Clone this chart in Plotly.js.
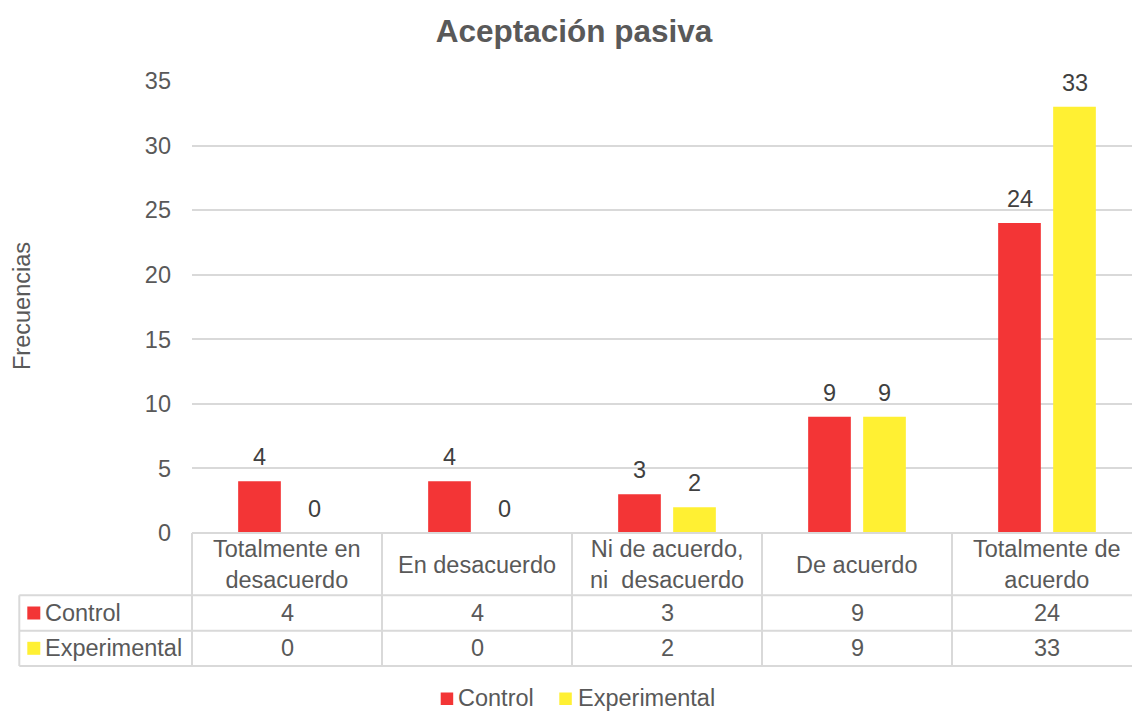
<!DOCTYPE html>
<html>
<head>
<meta charset="utf-8">
<script src="https://cdn.plot.ly/plotly-3.0.1.min.js"></script>
<style>
html,body{margin:0;padding:0;overflow:hidden;background:#fff;}
#chart{width:1142px;height:711px;}
</style>
</head>
<body>
<div id="chart"></div>
<script>
// ---- data ----
const categories = ["Totalmente en desacuerdo","En desacuerdo","Ni de acuerdo, ni  desacuerdo","De acuerdo","Totalmente de acuerdo"];
const headerLabels = ["Totalmente en<br>desacuerdo","En desacuerdo","Ni de acuerdo,<br>ni\u00a0 desacuerdo","De acuerdo","Totalmente de<br>acuerdo"];
const seriesNames = ["Control","Experimental"];
const control = [4,4,3,9,24];
const experimental = [0,0,2,9,33];
const yTicks = [0,5,10,15,20,25,30,35];
const titleText = "Aceptación pasiva";
const yTitle = "Frecuencias";

// ---- styling ----
const FONT = "Liberation Sans, Arial, sans-serif";
const RED = "#F33536";
const YEL = "#FFF033";
const GRID = "#D9D9D9";
const TXT = "#595959";
const LBL = "#404040";
const FS = 23.5;

const W = 1142, H = 711, L = 192, T = 81, B = 178;
const PW = W - L, PH = H - T - B;
const X = px => (px - L) / PW;
const Y = py => (H - B - py) / PH;

const colors = [RED, YEL];
const values = [control, experimental];

const traces = values.map((v, k) => ({
  type: "bar",
  name: seriesNames[k],
  x: categories,
  y: v,
  marker: {color: colors[k]},
  hoverinfo: "x+y+name",
  showlegend: false
}));

const annotations = [];
const shapes = [];

// data labels
values.forEach((v, k) => {
  v.forEach((val, i) => {
    annotations.push({
      x: categories[i], y: val, xref: "x", yref: "y",
      xshift: k === 0 ? -27.5 : 27.5, yshift: 9,
      yanchor: "bottom", showarrow: false,
      text: String(val), font: {family: FONT, size: FS, color: LBL}
    });
  });
});

// table header labels
categories.forEach((c, i) => {
  annotations.push({
    x: c, y: Y(564.5), xref: "x", yref: "paper", yanchor: "middle",
    showarrow: false, text: headerLabels[i],
    font: {family: FONT, size: FS, color: TXT}
  });
});

// table values
const rowCenters = [613, 648.3];
values.forEach((v, k) => {
  v.forEach((val, i) => {
    annotations.push({
      x: categories[i], y: Y(rowCenters[k]), xref: "x", yref: "paper", yanchor: "middle",
      showarrow: false, text: String(val),
      font: {family: FONT, size: FS, color: TXT}
    });
  });
  // row label
  annotations.push({
    x: X(43), y: Y(rowCenters[k]), xref: "paper", yref: "paper",
    xanchor: "left", yanchor: "middle", showarrow: false,
    text: seriesNames[k], font: {family: FONT, size: FS, color: TXT}
  });
  shapes.push({
    type: "rect", xref: "paper", yref: "paper",
    x0: X(27.3), x1: X(40.3), y0: Y(rowCenters[k] - 6.5), y1: Y(rowCenters[k] + 6.5),
    line: {width: 0}, fillcolor: colors[k]
  });
});

// table lines
const lineStyle = {color: GRID, width: 2};
[533, 595.3, 630.7, 666].forEach((py, j) => {
  shapes.push({type: "line", xref: "paper", yref: "paper",
    x0: j === 0 ? X(192) : X(19.3), x1: X(1142), y0: Y(py), y1: Y(py), line: lineStyle});
});
shapes.push({type: "line", xref: "paper", yref: "paper",
  x0: X(19.3), x1: X(19.3), y0: Y(595.3), y1: Y(666), line: lineStyle});
for (let i = 0; i <= categories.length; i++) {
  const px = 192 + i * 190;
  shapes.push({type: "line", xref: "paper", yref: "paper",
    x0: X(px), x1: X(px), y0: Y(533), y1: Y(666), line: lineStyle});
}

// y-axis title
annotations.push({
  x: X(22), y: Y(306), xref: "paper", yref: "paper", textangle: -90,
  xanchor: "center", yanchor: "middle",
  showarrow: false, text: yTitle, font: {family: FONT, size: FS, color: TXT}
});

// legend (bottom)
const legendItems = [
  {sq: 440.7, tx: 457.2},
  {sq: 559.3, tx: 576.8}
];
const legY = 698;
legendItems.forEach((it, k) => {
  shapes.push({type: "rect", xref: "paper", yref: "paper",
    x0: X(it.sq), x1: X(it.sq + 12.5), y0: Y(legY - 5.5), y1: Y(legY + 7),
    line: {width: 0}, fillcolor: colors[k]});
  annotations.push({x: X(it.tx), y: Y(legY), xref: "paper", yref: "paper",
    xanchor: "left", yanchor: "middle", showarrow: false, borderpad: 0,
    text: seriesNames[k], font: {family: FONT, size: FS, color: TXT}});
});

const layout = {
  width: W, height: H,
  margin: {l: L, r: 0, t: T, b: B, pad: 0},
  paper_bgcolor: "#fff", plot_bgcolor: "#fff",
  barmode: "group", bargap: 0.421, bargroupgap: 0.224,
  title: {
    text: "<b>" + titleText + "</b>",
    x: 574 / W, xanchor: "center", xref: "container",
    y: 1 - 31 / H, yanchor: "middle", yref: "container",
    font: {family: FONT, size: 31.5, color: TXT}
  },
  xaxis: {
    type: "category", range: [-0.5, 4.5], showticklabels: false,
    showgrid: false, zeroline: false, showline: false, ticks: "", fixedrange: true
  },
  yaxis: {
    range: [0, 35], tickvals: yTicks, ticktext: yTicks.map(String),
    showgrid: true, gridcolor: GRID, gridwidth: 1.5, zeroline: false, showline: false,
    ticks: "", ticklabelstandoff: 20,
    tickfont: {family: FONT, size: FS, color: TXT}, fixedrange: true
  },
  showlegend: false,
  annotations: annotations,
  shapes: shapes
};

Plotly.newPlot("chart", traces, layout, {displayModeBar: false, staticPlot: false});
</script>
</body>
</html>
